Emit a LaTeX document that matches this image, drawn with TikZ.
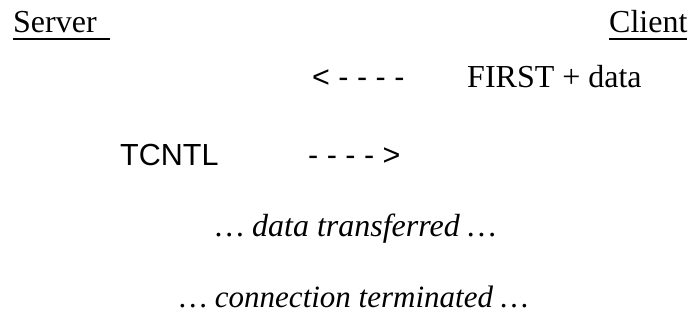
\documentclass[tikz,border=0pt]{standalone}
\usepackage{fontspec}
\setmainfont{Liberation Serif}
\newfontfamily\sansf{Liberation Sans}
\begin{document}
\begin{tikzpicture}[x=1pt,y=-1pt,
  serif/.style={inner sep=0pt,anchor=base west,font=\fontsize{32}{38}\selectfont},
  sanslbl/.style={inner sep=0pt,anchor=base west,font=\sansf\fontsize{30.5}{36}\selectfont},
  ital/.style={inner sep=0pt,anchor=base,font=\itshape\fontsize{32}{38}\selectfont},
  uline/.style={line width=1.4pt}]
\useasboundingbox (0,0) rectangle (695,333);
\node[serif] (server) at (13,32) {Server};
\node[serif] (client) at (609,32) {Client};
\coordinate (su1) at (13,39);
\coordinate (su2) at (110,39);
\draw[uline] (su1) -- (su2);
\coordinate (cu1) at (609,39);
\coordinate (cu2) at (687,39);
\draw[uline] (cu1) -- (cu2);
\node[sanslbl] (larr) at (312,87) {< - - - -};
\node[serif] (first) at (467,87) {FIRST + data};
\node[sanslbl] (tcntl) at (120,165) {TCNTL};
\node[sanslbl] (rarr) at (308,165) {- - - - >};
\node[ital] (data) at (356,236) {\ldots\ data transferred \ldots};
\node[ital,font=\itshape\fontsize{31}{38}\selectfont] (term) at (354,307) {\ldots\ connection terminated \ldots};
\end{tikzpicture}
\end{document}
